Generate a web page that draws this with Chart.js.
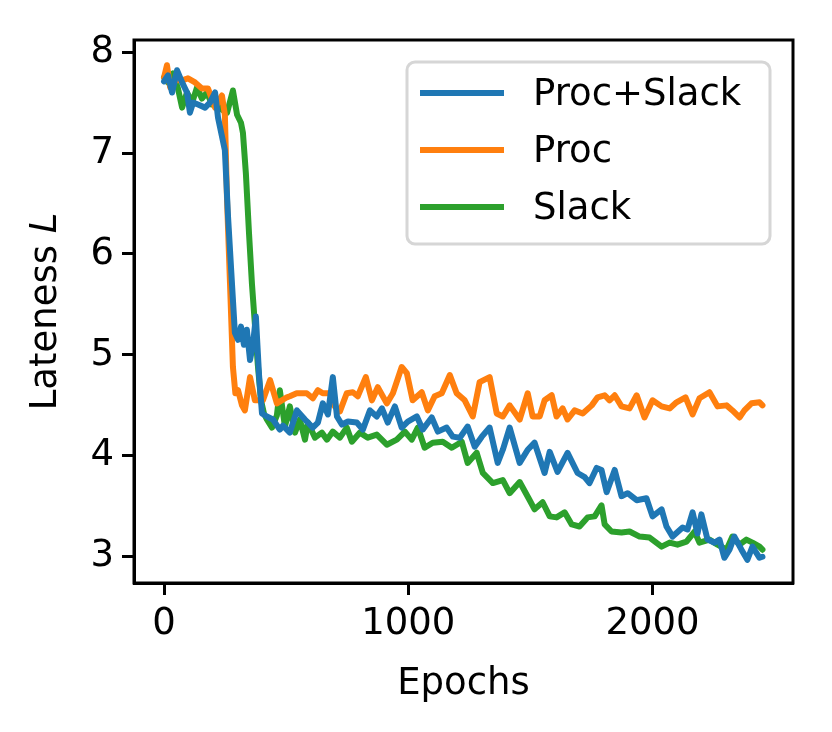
<!DOCTYPE html>
<html>
<head>
<meta charset="utf-8">
<script src="https://cdn.jsdelivr.net/npm/chart.js@4.4.1/dist/chart.umd.min.js"></script>
<style>
  html, body { margin: 0; padding: 0; background: #fff; }
  canvas { display: block; }
</style>
</head>
<body>
<canvas id="myChart" width="832" height="732"></canvas>
<script>
// values
const seriesNames = ['Proc+Slack', 'Proc', 'Slack'];
const seriesColors = ['#1f77b4', '#ff7f0e', '#2ca02c'];
const xTicks = [0, 1000, 2000];
const yTicks = [3, 4, 5, 6, 7, 8];

const procSlackEpochs = [0, 16, 33, 53, 74, 94, 106, 119, 139, 168, 188, 209, 221, 249, 262, 278, 290, 303, 315, 327, 339, 352, 364, 376, 389, 401, 421, 446, 474, 487,
  515, 544, 577, 609, 630, 650, 671, 691, 708, 728, 753, 789, 814, 843, 871, 892, 916, 945, 973, 998, 1035, 1059, 1096, 1121, 1157, 1182, 1211, 1243, 1272, 1301, 1333, 1366, 1387, 1415, 1456, 1489,
  1517, 1558, 1579, 1611, 1652, 1693, 1722, 1742, 1771, 1791, 1812, 1845, 1873, 1898, 1935, 1975, 2000, 2037, 2057, 2082, 2123, 2143, 2164, 2184, 2200, 2225, 2254, 2274, 2294, 2315, 2335, 2364, 2388, 2409, 2438, 2450];
const procSlackValues = [7.71, 7.77, 7.6, 7.82, 7.7, 7.6, 7.4, 7.5, 7.48, 7.45, 7.5, 7.6, 7.35, 7.03, 6.37, 5.71, 5.22, 5.15, 5.28, 5.1, 5.25, 4.95, 5.1, 5.38, 4.8, 4.42, 4.39, 4.36, 4.26, 4.3,
  4.23, 4.45, 4.36, 4.28, 4.33, 4.52, 4.41, 4.78, 4.39, 4.31, 4.34, 4.33, 4.26, 4.45, 4.39, 4.47, 4.33, 4.49, 4.28, 4.34, 4.39, 4.26, 4.38, 4.24, 4.28, 4.19, 4.18, 4.29, 4.09, 4.19, 4.28, 3.93, 4.06, 4.28, 3.93, 4.06,
  4.13, 3.83, 4.04, 3.84, 4.03, 3.83, 3.79, 3.73, 3.88, 3.86, 3.64, 3.86, 3.6, 3.63, 3.56, 3.58, 3.4, 3.47, 3.3, 3.2, 3.29, 3.27, 3.44, 3.23, 3.42, 3.17, 3.14, 3.17, 2.99, 3.07, 3.2, 3.07, 2.97, 3.1, 2.99, 3.0];

const procEpochs = [0, 12, 25, 45, 74, 98, 127, 155, 180, 209, 237, 249, 258, 270, 282, 292, 303, 319, 331, 352, 372, 405, 434, 462, 503,
  515, 543, 584, 609, 630, 650, 679, 699, 720, 748, 773, 793, 826, 851, 875, 912, 937, 973, 994, 1018, 1055, 1080, 1108, 1137, 1170, 1198, 1231, 1264, 1292, 1333, 1362, 1387, 1415, 1456, 1489,
  1509, 1538, 1558, 1587, 1607, 1632, 1652, 1681, 1714, 1751, 1775, 1804, 1824, 1845, 1873, 1906, 1935, 1967, 2000, 2037, 2070, 2098, 2135, 2164, 2192, 2233, 2266, 2303, 2327, 2356, 2376, 2405, 2438, 2450];
const procValues = [7.75, 7.87, 7.65, 7.72, 7.72, 7.74, 7.7, 7.64, 7.64, 7.45, 7.57, 7.38, 6.53, 5.71, 4.88, 4.62, 4.65, 4.5, 4.45, 4.78, 4.55, 4.55, 4.75, 4.52, 4.58,
  4.59, 4.62, 4.62, 4.57, 4.65, 4.62, 4.62, 4.49, 4.44, 4.62, 4.63, 4.59, 4.78, 4.55, 4.68, 4.52, 4.62, 4.88, 4.82, 4.55, 4.63, 4.45, 4.59, 4.62, 4.8, 4.62, 4.55, 4.39, 4.73, 4.78, 4.42, 4.39, 4.5, 4.36, 4.62,
  4.39, 4.39, 4.55, 4.6, 4.39, 4.47, 4.36, 4.45, 4.42, 4.5, 4.58, 4.6, 4.55, 4.6, 4.49, 4.47, 4.6, 4.38, 4.55, 4.49, 4.47, 4.53, 4.58, 4.41, 4.57, 4.63, 4.49, 4.5, 4.45, 4.38, 4.45, 4.52, 4.53, 4.5];

const slackEpochs = [0, 16, 37, 57, 74, 94, 115, 135, 155, 176, 196, 217, 237, 258, 282, 299, 315, 323, 335, 348, 360, 372, 384, 397, 409, 421, 442, 462, 474, 495,
  515, 536, 556, 577, 589, 618, 646, 667, 691, 720, 748, 769, 802, 834, 871, 912, 953, 986, 1014, 1039, 1067, 1100, 1141, 1178, 1219, 1243, 1280, 1305, 1346, 1387, 1415, 1456,
  1497, 1517, 1550, 1579, 1607, 1640, 1669, 1701, 1734, 1763, 1791, 1804, 1832, 1873, 1906, 1947, 1988, 2037, 2070, 2102, 2139, 2172, 2192, 2233, 2266, 2303, 2327, 2356, 2384, 2409, 2438, 2450];
const slackValues = [7.75, 7.7, 7.79, 7.64, 7.45, 7.6, 7.5, 7.65, 7.54, 7.6, 7.48, 7.49, 7.43, 7.4, 7.62, 7.38, 7.3, 7.2, 6.8, 6.2, 5.7, 5.3, 4.9, 4.55, 4.42, 4.36, 4.28, 4.4, 4.65, 4.29,
  4.49, 4.23, 4.36, 4.16, 4.33, 4.18, 4.23, 4.16, 4.24, 4.18, 4.28, 4.14, 4.23, 4.18, 4.21, 4.11, 4.16, 4.24, 4.16, 4.28, 4.08, 4.13, 4.14, 4.08, 4.14, 3.93, 4.03, 3.83, 3.73, 3.76, 3.63, 3.74,
  3.56, 3.47, 3.54, 3.4, 3.39, 3.44, 3.32, 3.3, 3.39, 3.4, 3.51, 3.32, 3.25, 3.24, 3.25, 3.2, 3.19, 3.1, 3.14, 3.12, 3.15, 3.25, 3.14, 3.17, 3.12, 3.07, 3.2, 3.12, 3.17, 3.14, 3.1, 3.07];

function toPoints(xs, ys) {
  return xs.map((x, i) => ({ x: x, y: ys[i] }));
}

const FONT = 'DejaVu Sans';
const FONT_SIZE = 37;

// box round the plot, like matplotlib spines
const framePlugin = {
  id: 'frame',
  afterDatasetsDraw(chart) {
    const a = chart.chartArea;
    const ctx = chart.ctx;
    ctx.save();
    ctx.strokeStyle = '#000';
    ctx.lineWidth = 3;
    ctx.strokeRect(a.left, a.top, a.right - a.left, a.bottom - a.top);
    ctx.restore();
  }
};

// axis titles (italic L needs two fonts)
const titlesPlugin = {
  id: 'titles',
  afterDraw(chart) {
    const a = chart.chartArea;
    const ctx = chart.ctx;
    ctx.save();
    ctx.fillStyle = '#000';
    ctx.textBaseline = 'alphabetic';
    ctx.textAlign = 'center';
    ctx.font = FONT_SIZE + 'px "' + FONT + '"';
    ctx.fillText('Epochs', (a.left + a.right) / 2, 694);

    const normal = FONT_SIZE + 'px "' + FONT + '"';
    const italic = 'oblique ' + FONT_SIZE + 'px "' + FONT + '"';
    ctx.font = normal;
    const w1 = ctx.measureText('Lateness ').width;
    ctx.font = italic;
    const w2 = ctx.measureText('L').width;
    ctx.translate(56, (a.top + a.bottom) / 2);
    ctx.rotate(-Math.PI / 2);
    ctx.textAlign = 'left';
    const start = -(w1 + w2) / 2;
    ctx.font = normal;
    ctx.fillText('Lateness ', start, 0);
    ctx.font = italic;
    ctx.fillText('L', start + w1, 0);
    ctx.restore();
  }
};

// legend inside the plot, upper right
const legendBoxPlugin = {
  id: 'legendBox',
  afterDraw(chart) {
    const ctx = chart.ctx;
    const x0 = 407, y0 = 62, x1 = 770, y1 = 244, r = 8;
    ctx.save();
    ctx.beginPath();
    ctx.moveTo(x0 + r, y0);
    ctx.arcTo(x1, y0, x1, y1, r);
    ctx.arcTo(x1, y1, x0, y1, r);
    ctx.arcTo(x0, y1, x0, y0, r);
    ctx.arcTo(x0, y0, x1, y0, r);
    ctx.closePath();
    ctx.fillStyle = 'rgba(255,255,255,0.8)';
    ctx.fill();
    ctx.strokeStyle = '#d6d6d6';
    ctx.lineWidth = 3;
    ctx.stroke();

    const rows = [93, 150, 207];
    ctx.font = FONT_SIZE + 'px "' + FONT + '"';
    ctx.textBaseline = 'middle';
    ctx.textAlign = 'left';
    chart.data.datasets.forEach((ds, i) => {
      ctx.strokeStyle = ds.borderColor;
      ctx.lineWidth = 6;
      ctx.beginPath();
      ctx.moveTo(420, rows[i]);
      ctx.lineTo(504, rows[i]);
      ctx.stroke();
      ctx.fillStyle = '#000';
      ctx.fillText(ds.label, 533, rows[i] + 2);
    });
    ctx.restore();
  }
};

const ctx = document.getElementById('myChart').getContext('2d');
const myChart = new Chart(ctx, {
  type: 'line',
  data: {
    datasets: [
      { label: seriesNames[0], data: toPoints(procSlackEpochs, procSlackValues), borderColor: seriesColors[0] },
      { label: seriesNames[1], data: toPoints(procEpochs, procValues), borderColor: seriesColors[1] },
      { label: seriesNames[2], data: toPoints(slackEpochs, slackValues), borderColor: seriesColors[2] }
    ]
  },
  options: {
    responsive: false,
    animation: false,
    devicePixelRatio: 1,
    layout: { padding: { left: 0, right: 39, top: 40, bottom: 0 } },
    elements: {
      point: { radius: 0 },
      line: { borderWidth: 6, tension: 0, borderJoinStyle: 'round', borderCapStyle: 'round' }
    },
    plugins: {
      legend: { display: false },
      tooltip: { enabled: false }
    },
    scales: {
      x: {
        type: 'linear',
        min: -123,
        max: 2575,
        afterBuildTicks: (scale) => { scale.ticks = xTicks.map(v => ({ value: v })); },
        afterFit: (scale) => { scale.height = 149; },
        grid: { drawOnChartArea: false, drawTicks: true, tickLength: 12, tickWidth: 3, tickColor: '#000' },
        border: { display: true, color: '#000', width: 3 },
        ticks: { color: '#000', font: { family: FONT, size: FONT_SIZE }, padding: 7, maxRotation: 0, callback: (v) => String(v) }
      },
      y: {
        min: 2.74,
        max: 8.12,
        afterBuildTicks: (scale) => { scale.ticks = yTicks.map(v => ({ value: v })); },
        afterFit: (scale) => { scale.width = 134; },
        grid: { drawOnChartArea: false, drawTicks: true, tickLength: 12, tickWidth: 3, tickColor: '#000' },
        border: { display: true, color: '#000', width: 3 },
        ticks: { color: '#000', font: { family: FONT, size: FONT_SIZE }, padding: 8, callback: (v) => String(v) }
      }
    }
  },
  plugins: [framePlugin, titlesPlugin, legendBoxPlugin]
});
</script>
</body>
</html>
